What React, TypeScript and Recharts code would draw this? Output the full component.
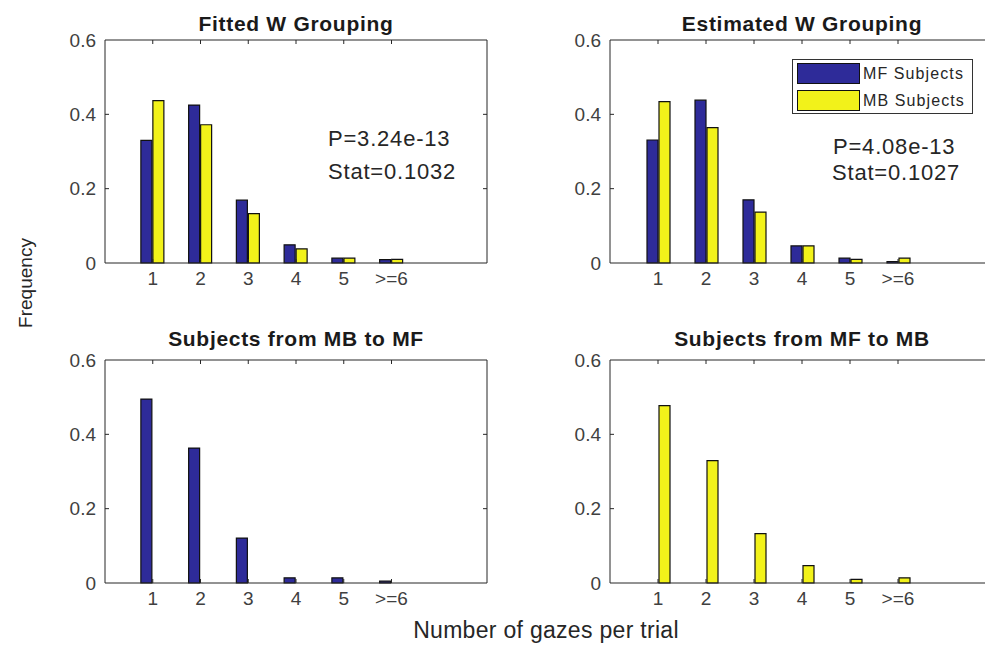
import React from 'react';
import { BarChart, Bar, XAxis, YAxis, ReferenceLine } from 'recharts';

// Gaze-count bins (last bin collects everything >= 6)
const gazeBins = [1, 2, 3, 4, 5, 6];
const binLabels = ['1', '2', '3', '4', '5', '>=6'];
const freqTicks = [0, 0.2, 0.4, 0.6];

const seriesNames = ['MF Subjects', 'MB Subjects'];

// Frequencies
const fittedMF = [0.33, 0.425, 0.169, 0.049, 0.013, 0.009];
const fittedMB = [0.437, 0.372, 0.133, 0.038, 0.013, 0.01];
const estimatedMF = [0.331, 0.438, 0.17, 0.046, 0.013, 0.004];
const estimatedMB = [0.434, 0.364, 0.137, 0.046, 0.01, 0.013];
const mbToMF = [0.495, 0.363, 0.121, 0.014, 0.014, 0.005];
const mfToMB = [0.477, 0.329, 0.133, 0.047, 0.01, 0.014];

const BLUE = '#2e2b99';
const YELLOW = '#f2f21a';
const AXIS = '#262626';
const TICK_TEXT = '#404040';
const FONT = '"Liberation Sans", Arial, Helvetica, sans-serif';

interface PanelProps {
  x: number; // plot area left, page px
  y: number; // plot area top
  w: number;
  h: number;
  mf?: number[];
  mb?: number[];
}

const Panel: React.FC<PanelProps> = ({ x, y, w, h, mf, mb }) => {
  const rows = gazeBins.map((bin, i) => ({
    bin,
    mf: mf ? mf[i] : undefined,
    mb: mb ? mb[i] : undefined,
  }));
  // inward tick length (4px) in data units
  const tx = (4 / w) * 8;
  const ty = (4 / h) * 0.6;

  return (
    <div style={{ position: 'absolute', left: x - 60, top: y - 10 }}>
      <BarChart
        width={w + 70}
        height={h + 50}
        data={rows}
        margin={{ top: 10, right: 10, bottom: 10, left: 10 }}
        barSize={11}
        barGap={1}
      >
        <XAxis
          dataKey="bin"
          type="number"
          domain={[0, 8]}
          ticks={gazeBins}
          interval={0}
          height={30}
          tickLine={false}
          tickSize={0}
          tickMargin={9}
          axisLine={{ stroke: AXIS }}
          tick={{ fontSize: 19, fill: TICK_TEXT }}
          tickFormatter={(v: number) => binLabels[gazeBins.indexOf(v)]}
        />
        <YAxis
          type="number"
          domain={[0, 0.6]}
          ticks={freqTicks}
          interval={0}
          width={50}
          tickLine={false}
          tickSize={0}
          tickMargin={9}
          axisLine={{ stroke: AXIS }}
          tick={{ fontSize: 19, fill: TICK_TEXT }}
        />
        <Bar dataKey="mf" name={seriesNames[0]} fill={BLUE} stroke="#111" strokeWidth={1.2} isAnimationActive={false} />
        <Bar dataKey="mb" name={seriesNames[1]} fill={YELLOW} stroke="#111" strokeWidth={1.2} isAnimationActive={false} />
        <ReferenceLine y={0.6} stroke={AXIS} />
        <ReferenceLine x={8} stroke={AXIS} />
        {gazeBins.map((t) => (
          <ReferenceLine key={'tt' + t} segment={[{ x: t, y: 0.6 }, { x: t, y: 0.6 - ty }]} stroke={AXIS} />
        ))}
        {gazeBins.map((t) => (
          <ReferenceLine key={'bt' + t} segment={[{ x: t, y: 0 }, { x: t, y: ty }]} stroke={AXIS} />
        ))}
        {freqTicks.slice(1, 3).map((t) => (
          <ReferenceLine key={'lt' + t} segment={[{ x: 0, y: t }, { x: tx, y: t }]} stroke={AXIS} />
        ))}
        {freqTicks.slice(1, 3).map((t) => (
          <ReferenceLine key={'rt' + t} segment={[{ x: 8, y: t }, { x: 8 - tx, y: t }]} stroke={AXIS} />
        ))}
      </BarChart>
    </div>
  );
};

const titleStyle = { fontSize: 21, fontWeight: 700, letterSpacing: 0.7, fill: '#1a1a1a' } as const;
const statStyle = { fontSize: 22, letterSpacing: 0.8, fill: '#262626' } as const;

const App: React.FC = () => {
  return (
    <div
      style={{
        position: 'absolute',
        left: 0,
        top: 0,
        width: 985,
        height: 645,
        overflow: 'hidden',
        background: '#fff',
        fontFamily: FONT,
      }}
    >
      <Panel x={105} y={40} w={382} h={223} mf={fittedMF} mb={fittedMB} />
      <Panel x={610} y={40} w={384} h={223} mf={estimatedMF} mb={estimatedMB} />
      <Panel x={105} y={360} w={382} h={223} mf={mbToMF} />
      <Panel x={610} y={360} w={384} h={223} mb={mfToMB} />

      {/* legend of the top-right panel */}
      <div
        style={{
          position: 'absolute',
          left: 792,
          top: 59,
          width: 181,
          height: 55,
          border: '1px solid #333',
          background: '#fff',
          boxSizing: 'border-box',
          padding: '3px 0 0 4px',
        }}
      >
        {[BLUE, YELLOW].map((c, i) => (
          <div key={i} style={{ display: 'flex', alignItems: 'center', height: 21, marginBottom: 6 }}>
            <div style={{ width: 63, height: 21, background: c, border: '1px solid #111', boxSizing: 'border-box' }} />
            <span style={{ marginLeft: 3, fontSize: 16, letterSpacing: 1.1, color: '#262626' }}>{seriesNames[i]}</span>
          </div>
        ))}
      </div>

      <svg width={985} height={645} style={{ position: 'absolute', left: 0, top: 0, pointerEvents: 'none' }}>
        <text x={296} y={31} textAnchor="middle" style={titleStyle}>Fitted W Grouping</text>
        <text x={802} y={31} textAnchor="middle" style={titleStyle}>Estimated W Grouping</text>
        <text x={296} y={346} textAnchor="middle" style={titleStyle}>Subjects from MB to MF</text>
        <text x={802} y={346} textAnchor="middle" style={titleStyle}>Subjects from MF to MB</text>

        <text x={328} y={146} style={statStyle}>P=3.24e-13</text>
        <text x={328} y={179} style={statStyle}>Stat=0.1032</text>
        <text x={833} y={154} style={statStyle}>P=4.08e-13</text>
        <text x={832} y={180} style={statStyle}>Stat=0.1027</text>

        <text x={32} y={283} textAnchor="middle" transform="rotate(-90 32 283)" style={{ fontSize: 19, fill: '#262626' }}>
          Frequency
        </text>
        <text x={546} y={638} textAnchor="middle" style={{ fontSize: 23, letterSpacing: 0.3, fill: '#262626' }}>
          Number of gazes per trial
        </text>
      </svg>
    </div>
  );
};

export default App;
